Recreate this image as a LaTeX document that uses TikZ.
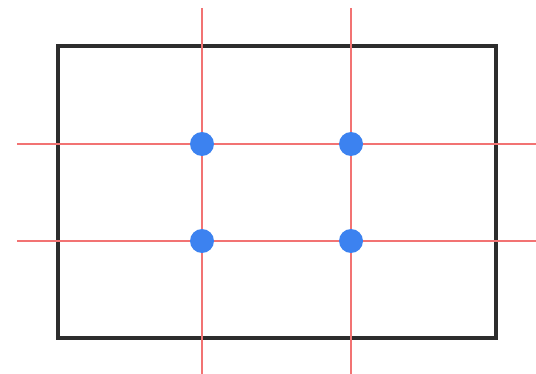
\documentclass[tikz,border=0pt]{standalone}
\usepackage{tikz}
\usetikzlibrary{positioning}
\definecolor{framecol}{RGB}{45,45,45}
\definecolor{guidecol}{RGB}{242,115,115}
\definecolor{dotcol}{RGB}{60,130,240}
\begin{document}
\begin{tikzpicture}[x=0.75pt, y=-0.75pt,
  frame/.style={draw=framecol, line width=2.5pt},
  guide/.style={draw=guidecol, line width=1.1pt},
  dot/.style={circle, fill=dotcol, inner sep=0pt, minimum size=18pt}
]
\useasboundingbox (0,0) rectangle (536,374);

% picture frame
\coordinate (tl) at (58,46);
\coordinate (br) at (496,338);
\draw[frame] (tl) rectangle (br);

% thirds
\coordinate (v1t) at (202,8);   \coordinate (v1b) at (202,374);
\coordinate (v2t) at (351,8);   \coordinate (v2b) at (351,374);
\coordinate (h1l) at (17,144);  \coordinate (h1r) at (536,144);
\coordinate (h2l) at (17,241);  \coordinate (h2r) at (536,241);

\foreach \a/\b in {v1t/v1b,v2t/v2b,h1l/h1r,h2l/h2r}
  \draw[guide] (\a) -- (\b);

% power points
\node[dot] (p11) at (202,144) {};
\node[dot] (p21) at (351,144) {};
\node[dot] (p12) at (202,241) {};
\node[dot] (p22) at (351,241) {};

\end{tikzpicture}
\end{document}
